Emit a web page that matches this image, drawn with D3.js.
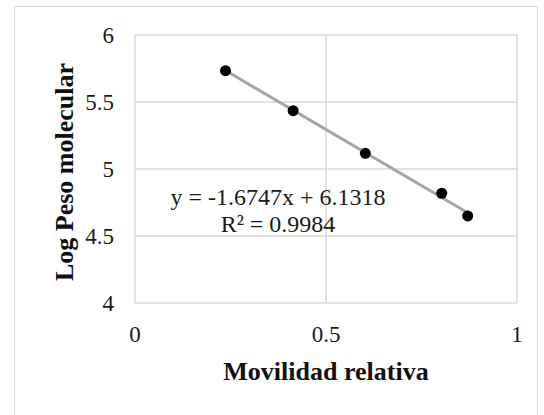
<!DOCTYPE html>
<html>
<head>
<meta charset="utf-8">
<script src="https://cdnjs.cloudflare.com/ajax/libs/d3/7.8.5/d3.min.js"></script>
<style>
  body { margin: 0; background: #fff; }
</style>
</head>
<body>
<div id="chart"></div>
<script>
var width = 544,
    height = 415;

var serif = "'Liberation Serif', 'Times New Roman', serif";

// data
var movilidad = [0.237, 0.414, 0.603, 0.803, 0.871];
var logPeso = [5.734, 5.435, 5.117, 4.819, 4.650];
var xTicks = [0, 0.5, 1];
var yTicks = [4, 4.5, 5, 5.5, 6];
var slope = -1.6747,
    intercept = 6.1318,
    r2 = 0.9984;

var svg = d3.select("#chart")
      .append("svg")
      .attr("width", width)
      .attr("height", height)
      .style("font-family", serif);

// outer chart border
svg.append("rect")
  .attr("x", 14.5)
  .attr("y", 6.5)
  .attr("width", 523)
  .attr("height", 420)
  .attr("fill", "none")
  .attr("stroke", "#d9d9d9")
  .attr("stroke-width", 1);

var x = d3.scaleLinear().domain([0, 1]).range([135, 517]);
var y = d3.scaleLinear().domain([4, 6]).range([303, 35]);

var g = svg.append("g");

// gridlines
g.selectAll(".hgrid")
  .data(yTicks)
  .enter().append("line")
  .attr("class", "hgrid")
  .attr("x1", x(0))
  .attr("x2", x(1))
  .attr("y1", function(d){ return y(d); })
  .attr("y2", function(d){ return y(d); })
  .attr("stroke", "#d9d9d9")
  .attr("stroke-width", 1.5);

g.selectAll(".vgrid")
  .data(xTicks)
  .enter().append("line")
  .attr("class", "vgrid")
  .attr("x1", function(d){ return x(d); })
  .attr("x2", function(d){ return x(d); })
  .attr("y1", y(4))
  .attr("y2", y(6))
  .attr("stroke", "#d9d9d9")
  .attr("stroke-width", 1.5);

// tick labels
g.selectAll(".ylab")
  .data(yTicks)
  .enter().append("text")
  .attr("class", "ylab")
  .attr("x", 114)
  .attr("y", function(d){ return y(d) + 8; })
  .attr("text-anchor", "end")
  .attr("font-family", serif)
  .style("font-size", "23px")
  .style("fill", "#1a1a1a")
  .text(function(d){ return d; });

g.selectAll(".xlab")
  .data(xTicks)
  .enter().append("text")
  .attr("class", "xlab")
  .attr("x", function(d){ return x(d); })
  .attr("y", 342)
  .attr("text-anchor", "middle")
  .attr("font-family", serif)
  .style("font-size", "23px")
  .style("fill", "#1a1a1a")
  .text(function(d){ return d; });

// axis titles
g.append("text")
  .attr("x", 326)
  .attr("y", 380)
  .attr("text-anchor", "middle")
  .attr("font-family", serif)
  .style("font-size", "26px")
  .style("font-weight", "bold")
  .style("fill", "#111")
  .text("Movilidad relativa");

g.append("text")
  .attr("transform", "translate(73,172) rotate(-90)")
  .attr("text-anchor", "middle")
  .attr("font-family", serif)
  .style("font-size", "26px")
  .style("font-weight", "bold")
  .style("fill", "#111")
  .text("Log Peso molecular");

// trendline
var xMin = d3.min(movilidad),
    xMax = d3.max(movilidad);

g.append("line")
  .attr("x1", x(xMin))
  .attr("y1", y(slope * xMin + intercept))
  .attr("x2", x(xMax))
  .attr("y2", y(slope * xMax + intercept))
  .attr("stroke", "#a5a5a5")
  .attr("stroke-width", 3);

// points
g.selectAll(".pt")
  .data(movilidad)
  .enter().append("circle")
  .attr("class", "pt")
  .attr("cx", function(d){ return x(d); })
  .attr("cy", function(d, i){ return y(logPeso[i]); })
  .attr("r", 5.5)
  .attr("fill", "#000");

// equation label
g.append("text")
  .attr("x", 278)
  .attr("y", 205)
  .attr("text-anchor", "middle")
  .attr("font-family", serif)
  .style("font-size", "24px")
  .style("fill", "#1a1a1a")
  .text("y = " + slope + "x + " + intercept);

g.append("text")
  .attr("x", 278)
  .attr("y", 232)
  .attr("text-anchor", "middle")
  .attr("font-family", serif)
  .style("font-size", "24px")
  .style("fill", "#1a1a1a")
  .text("R² = " + r2);
</script>
</body>
</html>
